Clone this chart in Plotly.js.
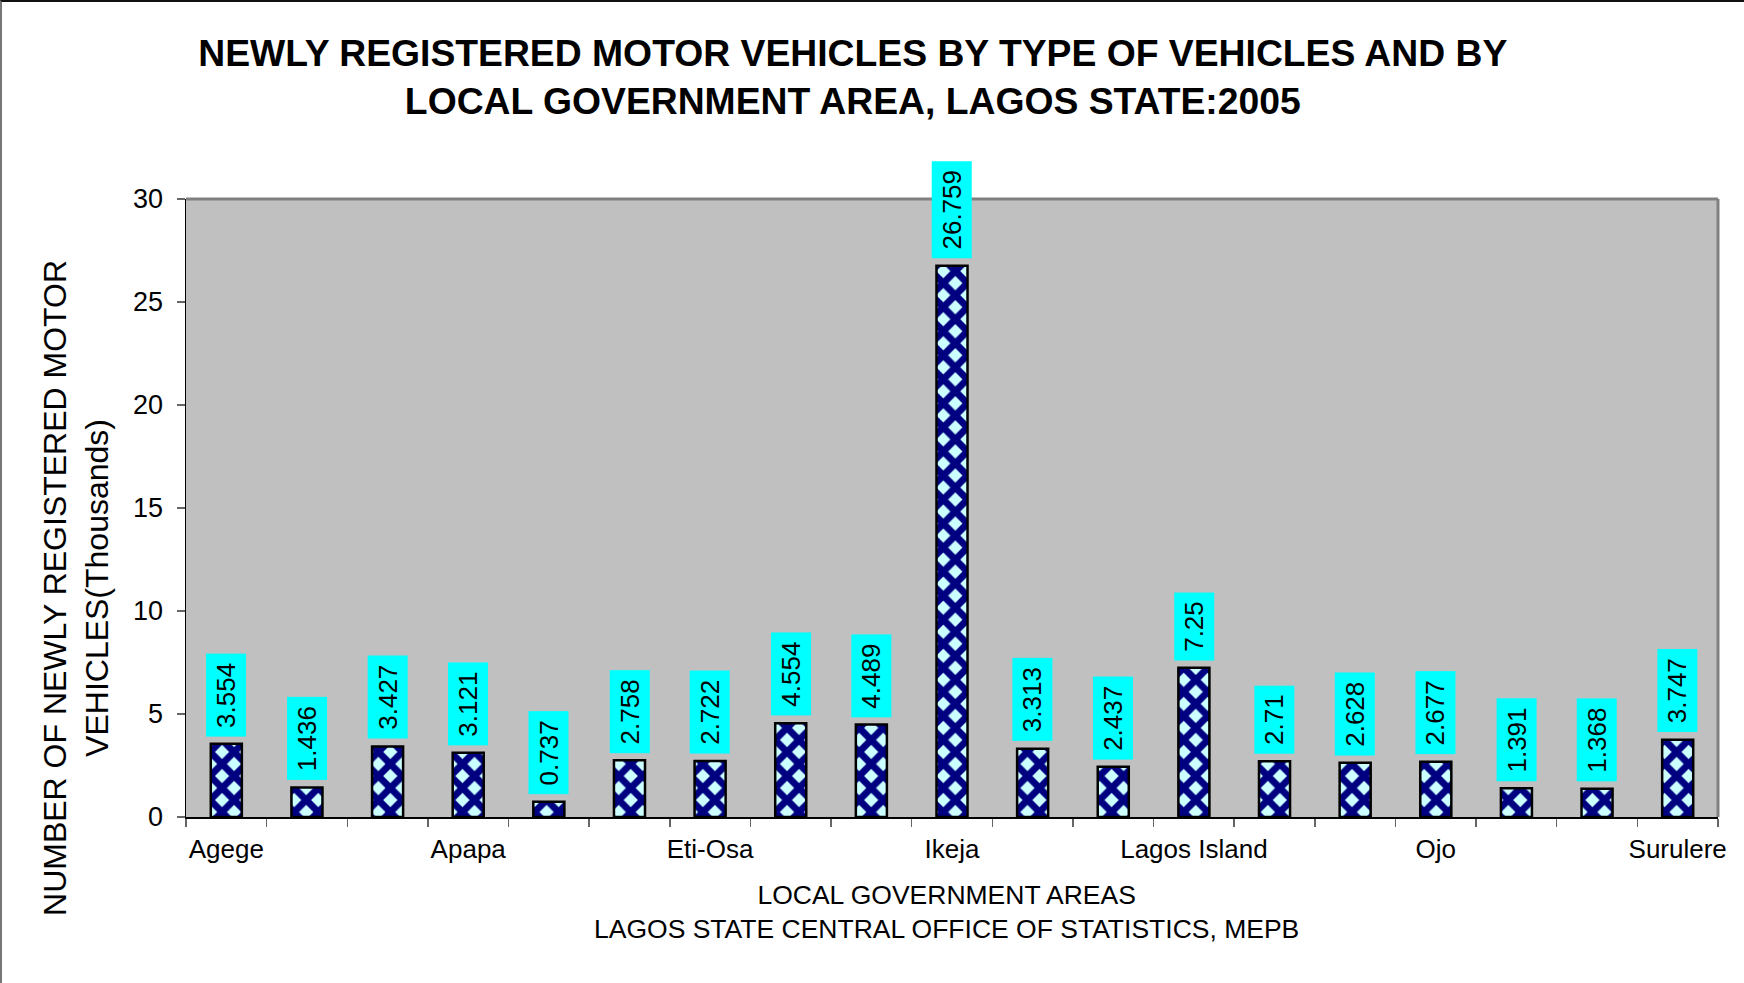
<!DOCTYPE html>
<html>
<head>
<meta charset="utf-8">
<script src="https://cdn.plot.ly/plotly-3.0.1.min.js"></script>
<style>
  html, body { margin: 0; padding: 0; background: #fff; }
  #wrap { position: relative; width: 1744px; height: 983px; }
  #chart { width: 1744px; height: 983px; }
  #frame { position: absolute; left: 0; top: 0; width: 1744px; height: 983px;
           border-top: 2px solid #111; border-left: 2px solid #777; box-sizing: border-box;
           pointer-events: none; }
</style>
</head>
<body>
<div id="wrap"><div id="chart"></div><div id="frame"></div></div>
<script>
// Local government areas (19 bars); only every third name is labelled on the axis
const categories = [
  "Agege", "Ajeromi-Ifelodun", "Amuwo-Odofin", "Apapa", "Badagry", "Epe",
  "Eti-Osa", "Ibeju-Lekki", "Ifako-Ijaiye", "Ikeja", "Ikorodu", "Kosofe",
  "Lagos Island", "Lagos Mainland", "Mushin", "Ojo", "Oshodi-Isolo", "Shomolu", "Surulere"
];
const tickLabels = [
  "Agege", "", "", "Apapa", "", "",
  "Eti-Osa", "", "", "Ikeja", "", "",
  "Lagos Island", "", "", "Ojo", "", "", "Surulere"
];
// Newly registered motor vehicles (thousands)
const vehicles = [
  3.554, 1.436, 3.427, 3.121, 0.737, 2.758,
  2.722, 4.554, 4.489, 26.759, 3.313, 2.437,
  7.25, 2.71, 2.628, 2.677, 1.391, 1.368, 3.747
];
const titleLines = [
  "NEWLY REGISTERED MOTOR VEHICLES BY TYPE OF VEHICLES AND BY",
  "LOCAL GOVERNMENT AREA, LAGOS STATE:2005"
];
const yTitleLines = ["NUMBER OF NEWLY REGISTERED MOTOR", "VEHICLES(Thousands)"];
const xTitleLines = ["LOCAL GOVERNMENT AREAS", "LAGOS STATE CENTRAL OFFICE OF STATISTICS, MEPB"];
const yTicks = [0, 5, 10, 15, 20, 25, 30];

const FONT = "Liberation Sans, Arial, Helvetica, sans-serif";
const NB = "\u00a0";

const trace = {
  type: "bar",
  x: categories,
  y: vehicles,
  marker: {
    color: "#ccffff",
    pattern: { shape: "x", fgcolor: "#000080", bgcolor: "#ccffff", size: 17, solidity: 0.65 },
    line: { color: "#000000", width: 2.5 }
  },
  hoverinfo: "x+y"
};

const labelAnnotations = categories.map((c, i) => ({
  x: c, y: vehicles[i], xref: "x", yref: "y",
  text: NB + String(vehicles[i]) + NB,
  textangle: -90, showarrow: false,
  xanchor: "center", yanchor: "bottom", yshift: 7,
  bgcolor: "#00ffff", borderpad: 1, height: 37,
  font: { family: FONT, size: 26, color: "#000000" }
}));

const layout = {
  width: 1744, height: 983,
  margin: { l: 186, r: 26, t: 199, b: 166 },
  paper_bgcolor: "#ffffff",
  plot_bgcolor: "#c0c0c0",
  showlegend: false,
  bargap: 0.615,
  font: { family: FONT, size: 26, color: "#000000" },
  title: {
    text: titleLines.join("<br>"),
    font: { family: FONT, size: 37.3, color: "#000000", weight: "bold" },
    xref: "container", yref: "container",
    x: 0.489, xanchor: "center", y: 0.933, yanchor: "middle"
  },
  xaxis: {
    type: "category",
    range: [-0.5, categories.length - 0.5],
    tickmode: "array", tickvals: categories, ticktext: tickLabels,
    tickson: "boundaries",
    ticks: "outside", ticklen: 8, tickwidth: 1.5, tickcolor: "#666666",
    ticklabelstandoff: 8,
    showline: true, linecolor: "#000000", linewidth: 1.5,
    showgrid: false, zeroline: false,
    tickfont: { family: FONT, size: 26, color: "#000000" },
    tickangle: 0
  },
  yaxis: {
    range: [0, 30],
    tickmode: "array", tickvals: yTicks, ticktext: yTicks.map(String),
    ticks: "outside", ticklen: 8, tickwidth: 1.5, tickcolor: "#666666",
    ticklabelstandoff: 8,
    showline: true, linecolor: "#000000", linewidth: 1.5,
    showgrid: false, zeroline: false,
    tickfont: { family: FONT, size: 27, color: "#000000" }
  },
  shapes: [
    { type: "line", xref: "paper", yref: "paper", x0: 0, x1: 1, y0: 1, y1: 1,
      line: { color: "#808080", width: 3 } },
    { type: "line", xref: "paper", yref: "paper", x0: 1, x1: 1, y0: 0, y1: 1,
      line: { color: "#808080", width: 3 } }
  ],
  annotations: labelAnnotations.concat([
    {
      xref: "paper", yref: "paper", x: -0.0718, y: 0.3706,
      xanchor: "center", yanchor: "middle", textangle: -90, showarrow: false,
      text: yTitleLines.join("<br>"), align: "center",
      font: { family: FONT, size: 32, color: "#000000" }
    },
    {
      xref: "paper", yref: "paper", x: 0.4964, y: -0.1537,
      xanchor: "center", yanchor: "middle", showarrow: false,
      text: xTitleLines.join("<br>"), align: "center",
      font: { family: FONT, size: 26.5, color: "#000000" }
    }
  ])
};

Plotly.newPlot("chart", [trace], layout, { displayModeBar: false, staticPlot: true });
</script>
</body>
</html>
